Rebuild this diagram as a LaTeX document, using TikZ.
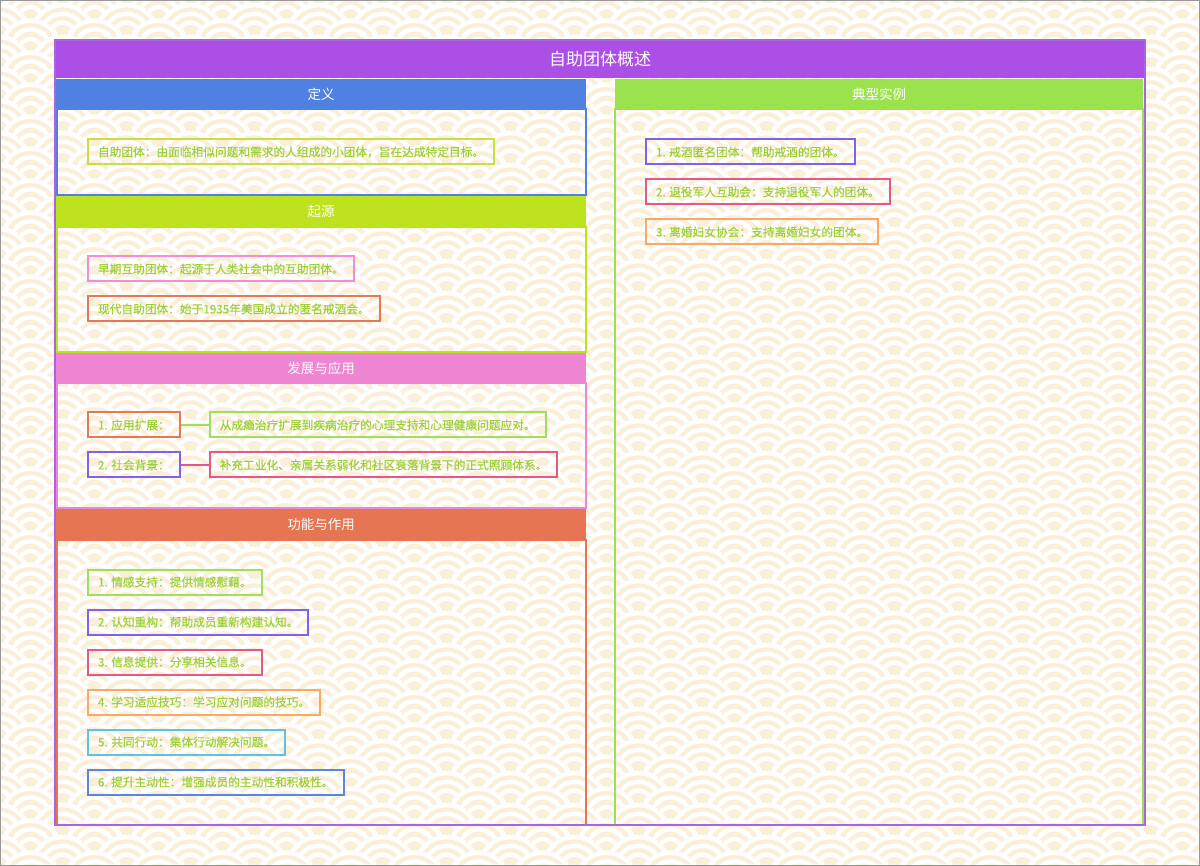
\documentclass[tikz,border=0pt]{standalone}
\usepackage{fontspec}
\setmainfont{Noto Sans CJK SC}
\newfontfamily\itemfont{Noto Sans CJK SC}[FakeBold=0.6]
\usetikzlibrary{positioning,patterns}

\definecolor{wavecream}{HTML}{FCEFD9}
\definecolor{titlepurple}{HTML}{AB4FE6}
\definecolor{framepurple}{HTML}{A965DD}
\definecolor{defblue}{HTML}{4F80E2}
\definecolor{originlime}{HTML}{BDE31F}
\definecolor{devpink}{HTML}{EE86D3}
\definecolor{funcorange}{HTML}{E57553}
\definecolor{casegreen}{HTML}{9BE34D}
\definecolor{itemtext}{HTML}{9FD03C}
\definecolor{limeb}{HTML}{C6E043}
\definecolor{pinkb}{HTML}{F08FD8}
\definecolor{orangeb}{HTML}{E27A58}
\definecolor{greenb}{HTML}{9EE05A}
\definecolor{purpleb}{HTML}{7E62E8}
\definecolor{redb}{HTML}{E2598A}
\definecolor{apricotb}{HTML}{F8A965}
\definecolor{cyanb}{HTML}{5CC3E2}
\definecolor{blueb}{HTML}{5B86E0}

% one wave scale of the backdrop
\newcommand\wavescale[2]{%
  \pgfpathcircle{\pgfpoint{#1pt}{#2pt}}{32pt}%
  \pgfsetfillcolor{wavecream}\pgfusepath{fill}%
  \pgfpathcircle{\pgfpoint{#1pt}{#2pt}}{32pt}%
  \pgfpathcircle{\pgfpoint{#1pt}{#2pt}}{27.5pt}%
  \pgfpathcircle{\pgfpoint{#1pt}{#2pt}}{23pt}%
  \pgfpathcircle{\pgfpoint{#1pt}{#2pt}}{18.5pt}%
  \pgfpathcircle{\pgfpoint{#1pt}{#2pt}}{14pt}%
  \pgfpathcircle{\pgfpoint{#1pt}{#2pt}}{9.5pt}%
  \pgfsetfillcolor{white}\pgfseteorule\pgfusepath{fill}}
\pgfdeclarepatterninherentlycolored{seigaiha}
  {\pgfpointorigin}{\pgfpoint{64pt}{32pt}}{\pgfpoint{64pt}{32pt}}
  {\wavescale{0}{64}\wavescale{64}{64}%
   \wavescale{-32}{48}\wavescale{32}{48}\wavescale{96}{48}%
   \wavescale{0}{32}\wavescale{64}{32}%
   \wavescale{-32}{16}\wavescale{32}{16}\wavescale{96}{16}%
   \wavescale{0}{0}\wavescale{64}{0}%
   \wavescale{-32}{-16}\wavescale{32}{-16}\wavescale{96}{-16}%
   \wavescale{0}{-32}\wavescale{64}{-32}}

\tikzset{hdr/.style={fill=#1,text=white,font=\fontsize{13.5}{16}\selectfont,minimum width=530pt,
    minimum height=30pt,inner sep=0pt,anchor=north west},
  itembox/.style={draw=#1,line width=2pt,text=itemtext,font=\itemfont\fontsize{11.7}{14}\selectfont,
    minimum height=25pt,inner xsep=10pt,inner ysep=0pt,anchor=west},
  panel/.style={draw=#1,line width=1.6pt},
  link/.style={draw=#1,line width=2pt}}

\begin{document}
\begin{tikzpicture}[x=1pt,y=-1pt]
\useasboundingbox (0,0) rectangle (1200,866);
\fill[wavecream] (0,0) rectangle (1200,866);
\fill[pattern=seigaiha] (0,0) rectangle (1200,866);
\draw[gray!80,line width=1pt] (0.5,0.5) rectangle (1199.5,865.5);

% title bar
\fill[titlepurple] (55,40) rectangle (1145,78);
\node[font=\fontsize{17}{20}\selectfont,text=white] (title) at (600,59) {自助团体概述};

% left column panels
\node[hdr=defblue] (defH) at (56,79) {定义};
\draw[panel=defblue] (57,109) rectangle (586,195);
\node[hdr=originlime] (orgH) at (56,196) {起源};
\draw[panel=originlime] (57,227) rectangle (586,352);
\node[hdr=devpink] (devH) at (56,353) {发展与应用};
\draw[panel=devpink] (57,383) rectangle (586,508);
\node[hdr=funcorange] (funH) at (56,509) {功能与作用};
\draw[panel=funcorange] (57,540) rectangle (586,825);

% right column panel
\node[hdr=casegreen,minimum width=528pt] (caseH) at (615,79) {典型实例};
\draw[panel=casegreen] (615,109) rectangle (1143,825);

\draw[framepurple,line width=2pt] (55,40) rectangle (1145,825);

% definition
\node[itembox=limeb] (def1) at (87,152) {自助团体：由面临相似问题和需求的人组成的小团体，旨在达成特定目标。};

% origin
\node[itembox=pinkb] (org1) at (87,269) {早期互助团体：起源于人类社会中的互助团体。};
\node[itembox=orangeb] (org2) at (87,309) {现代自助团体：始于1935年美国成立的匿名戒酒会。};

% development
\node[itembox=orangeb] (dev1) at (87,425) {1. 应用扩展：};
\node[itembox=greenb,right=28pt of dev1] (dev1d) {从成瘾治疗扩展到疾病治疗的心理支持和心理健康问题应对。};
\node[itembox=purpleb] (dev2) at (87,465) {2. 社会背景：};
\node[itembox=redb,right=28pt of dev2] (dev2d) {补充工业化、亲属关系弱化和社区衰落背景下的正式照顾体系。};
\draw[link=greenb] (dev1) -- (dev1d);
\draw[link=redb] (dev2) -- (dev2d);

% functions
\node[itembox=greenb] (fn1) at (87,582) {1. 情感支持：提供情感慰藉。};
\node[itembox=purpleb] (fn2) at (87,622) {2. 认知重构：帮助成员重新构建认知。};
\node[itembox=redb] (fn3) at (87,662) {3. 信息提供：分享相关信息。};
\node[itembox=apricotb] (fn4) at (87,702) {4. 学习适应技巧：学习应对问题的技巧。};
\node[itembox=cyanb] (fn5) at (87,742) {5. 共同行动：集体行动解决问题。};
\node[itembox=blueb] (fn6) at (87,782) {6. 提升主动性：增强成员的主动性和积极性。};

% examples
\node[itembox=purpleb] (ex1) at (645,152) {1. 戒酒匿名团体：帮助戒酒的团体。};
\node[itembox=redb] (ex2) at (645,192) {2. 退役军人互助会：支持退役军人的团体。};
\node[itembox=apricotb] (ex3) at (645,232) {3. 离婚妇女协会：支持离婚妇女的团体。};
\end{tikzpicture}
\end{document}
